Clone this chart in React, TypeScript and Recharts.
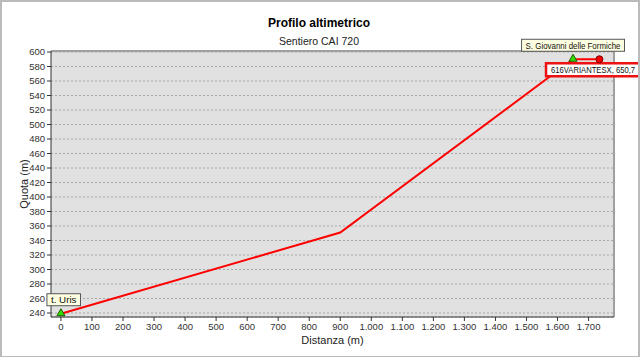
import React from "react";
import {
	LineChart,
	Line,
	XAxis,
	YAxis,
	CartesianGrid,
	ReferenceLine,
} from "recharts";

// distanza progressiva (m) e quota (m) dei punti del tracciato
const distanze = [0, 900, 1650, 1735];
const quote = [239, 351, 590, 590];
const nomiPunti = ["t. Uris", "", "S. Giovanni delle Formiche", ""];
const tipiPunto = ["rifugio", "", "rifugio", "fine"];
const etichettaVariante = "616VARIANTESX, 650,7";

const tickDistanze = [0, 100, 200, 300, 400, 500, 600, 700, 800, 900, 1000, 1100, 1200, 1300, 1400, 1500, 1600, 1700];
const tickQuote = [240, 260, 280, 300, 320, 340, 360, 380, 400, 420, 440, 460, 480, 500, 520, 540, 560, 580, 600];

const data = distanze.map((d, i) => ({
	dist: d,
	quota: quote[i],
	nome: nomiPunti[i],
	tipo: tipiPunto[i],
}));

const font = "'Liberation Sans', Arial, sans-serif";

const formatMigliaia = (v: number) =>
	v >= 1000 ? `${Math.floor(v / 1000)}.${String(v % 1000).padStart(3, "0")}` : String(v);

const Punto = (props: any) => {
	const { cx, cy, index, payload } = props;
	if (cx == null || cy == null) return <g key={index} />;
	if (payload.tipo === "fine") {
		return <circle key={index} cx={cx} cy={cy} r={3.5} fill="#ee0000" stroke="#800000" strokeWidth={1} />;
	}
	if (payload.tipo !== "rifugio") return <g key={index} />;
	const tri = `${cx},${cy - 5} ${cx - 4},${cy + 2} ${cx + 4},${cy + 2}`;
	const isFirst = index === 0;
	const tw = payload.nome.length * 3.65;
	const w = tw + 8;
	const bx = isFirst ? cx - 14 : cx - w / 2;
	const by = cy - 20;
	return (
		<g key={index}>
			<polygon points={tri} fill="#33dd00" stroke="#1d5a00" strokeWidth={1} />
			<rect x={bx} y={by} width={w} height={12} fill="#ffffe1" stroke="#555" strokeWidth={1} />
			<text x={bx + 4} y={by + 9.5} fontSize={9} fontFamily={font} fill="#111" textLength={tw} lengthAdjust="spacingAndGlyphs">
				{payload.nome}
			</text>
			{!isFirst && (
				<g>
					<rect x={cx - 27} y={cy + 4} width={110} height={13} fill="#fff" stroke="#ee1111" strokeWidth={2.5} />
					<text x={cx - 22} y={cy + 14} fontSize={9} fontFamily={font} fill="#111" textLength={84} lengthAdjust="spacingAndGlyphs">
						{etichettaVariante}
					</text>
				</g>
			)}
		</g>
	);
};

export default function App() {
	return (
		<div
			style={{
				position: "absolute",
				left: 0,
				top: 0,
				width: 636,
				height: 354,
				border: "2px solid #bbbbbb",
				borderRight: "3px solid #bbbbbb",
				background: "#fff",
				fontFamily: font,
				overflow: "hidden",
			}}
		>
			<div style={{ position: "absolute", left: 0, width: 634, top: 14, textAlign: "center", fontSize: 12, fontWeight: "bold", color: "#000" }}>
				Profilo altimetrico
			</div>
			<div style={{ position: "absolute", left: 0, width: 634, top: 33, textAlign: "center", fontSize: 10.5, color: "#222" }}>
				Sentiero CAI 720
			</div>
			<div style={{ position: "absolute", left: -2, top: -2 }}>
				<LineChart width={640} height={357} data={data} margin={{ top: 51, right: 26, bottom: 0, left: 0 }}>
					<CartesianGrid vertical={false} fill="#e1e1e1" stroke="#a8a8a8" strokeDasharray="2 2" />
					<XAxis
						type="number"
						dataKey="dist"
						domain={[-32, 1782]}
						ticks={tickDistanze}
						interval={0}
						tickFormatter={formatMigliaia}
						height={40}
						tickSize={4}
						stroke="#333"
						tick={{ fontSize: 9.5, fill: "#333", fontFamily: font }}
						label={{ value: "Distanza (m)", position: "insideBottom", offset: 13, fontSize: 11, fill: "#222", fontFamily: font }}
					/>
					<YAxis
						type="number"
						dataKey="quota"
						domain={[234.5, 601.4]}
						ticks={tickQuote}
						interval={0}
						width={51}
						tickSize={4}
						stroke="#333"
						tick={{ fontSize: 9.5, fill: "#333", fontFamily: font }}
						label={{ value: "Quota (m)", angle: -90, position: "center", dx: -1, fontSize: 11, fill: "#222", fontFamily: font }}
					/>
					<ReferenceLine y={601.4} stroke="#a0a0a0" strokeWidth={2} />
					<ReferenceLine x={1782} stroke="#a0a0a0" strokeWidth={2} />
					<Line
						type="linear"
						dataKey="quota"
						stroke="#ff0000"
						strokeWidth={2}
						dot={Punto}
						activeDot={false}
						isAnimationActive={false}
					/>
				</LineChart>
			</div>
		</div>
	);
}
